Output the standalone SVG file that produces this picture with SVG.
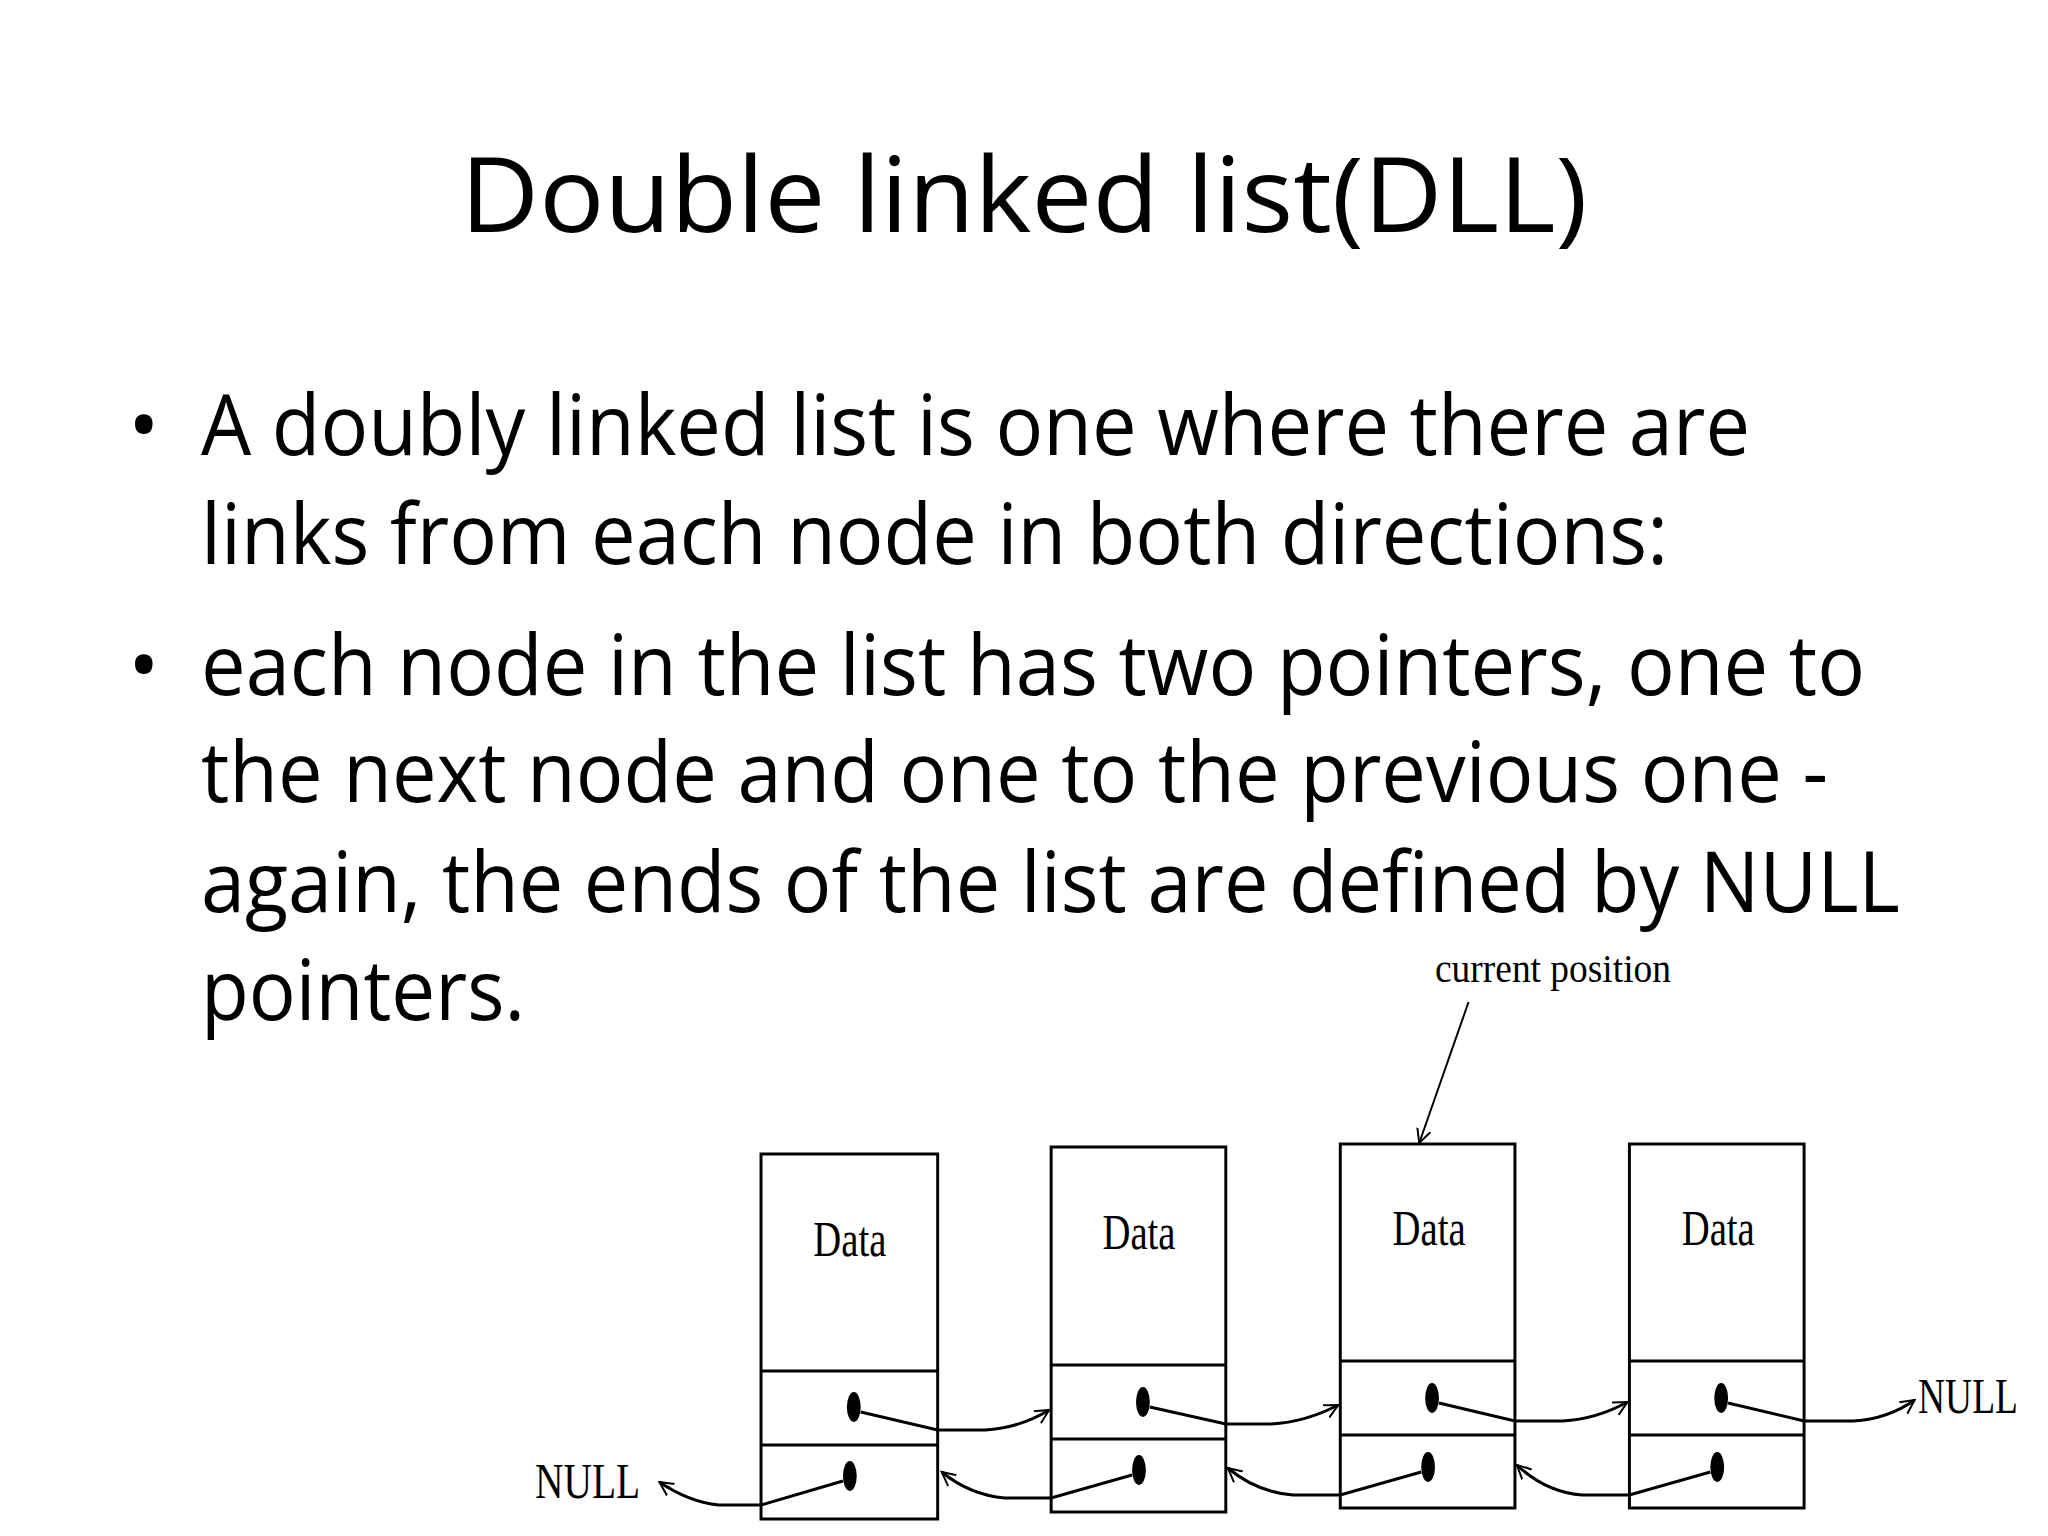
<svg xmlns="http://www.w3.org/2000/svg" width="2048" height="1536" viewBox="0 0 2048 1536">
<style>
.t{font-family:"Open Sans","Liberation Sans",sans-serif;fill:#000}
.d{font-family:"Liberation Serif",serif;fill:#000}
.b{fill:#fff;stroke:#000;stroke-width:3}
.c{fill:none;stroke:#000;stroke-width:3}
</style>
<defs><marker id="a" markerWidth="16" markerHeight="16" refX="14" refY="8" orient="auto" markerUnits="userSpaceOnUse"><path d="M0,1 L14,8 L0,15" fill="none" stroke="#000" stroke-width="2"/></marker></defs>
<rect width="2048" height="1536" fill="#fff"/>
<text class="t" x="1024" y="232" font-size="104" text-anchor="middle" textLength="1127" lengthAdjust="spacingAndGlyphs">Double linked list(DLL)</text>
<g font-size="84" class="t">
<text x="128" y="455">•</text>
<text x="201" y="455" textLength="1549" lengthAdjust="spacingAndGlyphs">A doubly linked list is one where there are</text>
<text x="201" y="564" textLength="1467" lengthAdjust="spacingAndGlyphs">links from each node in both directions:</text>
<text x="128" y="695">•</text>
<text x="201" y="695" textLength="1664" lengthAdjust="spacingAndGlyphs">each node in the list has two pointers, one to</text>
<text x="201" y="802" textLength="1627" lengthAdjust="spacingAndGlyphs">the next node and one to the previous one -</text>
<text x="201" y="912" textLength="1699" lengthAdjust="spacingAndGlyphs">again, the ends of the list are defined by NULL</text>
<text x="201" y="1020" textLength="324" lengthAdjust="spacingAndGlyphs">pointers.</text>
</g>
<text class="d" x="1553" y="982" font-size="40" text-anchor="middle" textLength="236" lengthAdjust="spacingAndGlyphs">current position</text>
<text class="d" x="535" y="1498" font-size="50" textLength="105" lengthAdjust="spacingAndGlyphs">NULL</text>
<text class="d" x="1918" y="1413" font-size="50" textLength="100" lengthAdjust="spacingAndGlyphs">NULL</text>
<g transform="matrix(0.9868 0 0 1 8.1 0)">
<g id="n1"><rect class="b" x="763" y="1154" width="179" height="365"/><line class="c" x1="763" y1="1371" x2="942" y2="1371"/><line class="c" x1="763" y1="1445" x2="942" y2="1445"/><text class="d" x="853" y="1256" font-size="50" text-anchor="middle" textLength="74" lengthAdjust="spacingAndGlyphs">Data</text><ellipse cx="857" cy="1407" rx="7" ry="15"/><ellipse cx="853" cy="1476" rx="7" ry="15"/></g>
<g id="n2"><rect class="b" x="1057" y="1147" width="177" height="365"/><line class="c" x1="1057" y1="1365" x2="1234" y2="1365"/><line class="c" x1="1057" y1="1439" x2="1234" y2="1439"/><text class="d" x="1146" y="1249" font-size="50" text-anchor="middle" textLength="74" lengthAdjust="spacingAndGlyphs">Data</text><ellipse cx="1150" cy="1402" rx="7" ry="15"/><ellipse cx="1146" cy="1470" rx="7" ry="15"/></g>
<g id="n3"><rect class="b" x="1350" y="1144" width="177" height="364"/><line class="c" x1="1350" y1="1361" x2="1527" y2="1361"/><line class="c" x1="1350" y1="1435" x2="1527" y2="1435"/><text class="d" x="1440" y="1245" font-size="50" text-anchor="middle" textLength="74" lengthAdjust="spacingAndGlyphs">Data</text><ellipse cx="1443" cy="1398" rx="7" ry="15"/><ellipse cx="1439" cy="1467" rx="7" ry="15"/></g>
<g id="n4"><rect class="b" x="1643" y="1144" width="177" height="364"/><line class="c" x1="1643" y1="1361" x2="1820" y2="1361"/><line class="c" x1="1643" y1="1435" x2="1820" y2="1435"/><text class="d" x="1733" y="1245" font-size="50" text-anchor="middle" textLength="74" lengthAdjust="spacingAndGlyphs">Data</text><ellipse cx="1736" cy="1398" rx="7" ry="15"/><ellipse cx="1732" cy="1467" rx="7" ry="15"/></g>
<g id="connectors">
<path class="c" marker-end="url(#a)" d="M864,1412 L942,1430 L990,1430 Q1025,1428 1055,1410"/>
<path class="c" marker-end="url(#a)" d="M1157,1407 L1234,1424 L1280,1424 Q1315,1422 1348,1405"/>
<path class="c" marker-end="url(#a)" d="M1450,1403 L1527,1421 L1575,1421 Q1610,1419 1641,1402"/>
<path class="c" marker-end="url(#a)" d="M1743,1403 L1820,1421 L1870,1421 Q1905,1419 1932,1400"/>
<path class="c" marker-end="url(#a)" d="M846,1481 L763,1505 L720,1505 Q690,1502 660,1482"/>
<path class="c" marker-end="url(#a)" d="M1139,1475 L1057,1498 L1010,1498 Q975,1495 946,1472"/>
<path class="c" marker-end="url(#a)" d="M1432,1472 L1350,1495 L1302,1495 Q1265,1492 1236,1468"/>
<path class="c" marker-end="url(#a)" d="M1725,1472 L1643,1495 L1595,1495 Q1558,1492 1529,1465"/>
<line x1="1480" y1="1002" x2="1430" y2="1143" stroke="#000" stroke-width="2" marker-end="url(#a)"/>
</g>
</g>
</svg>
